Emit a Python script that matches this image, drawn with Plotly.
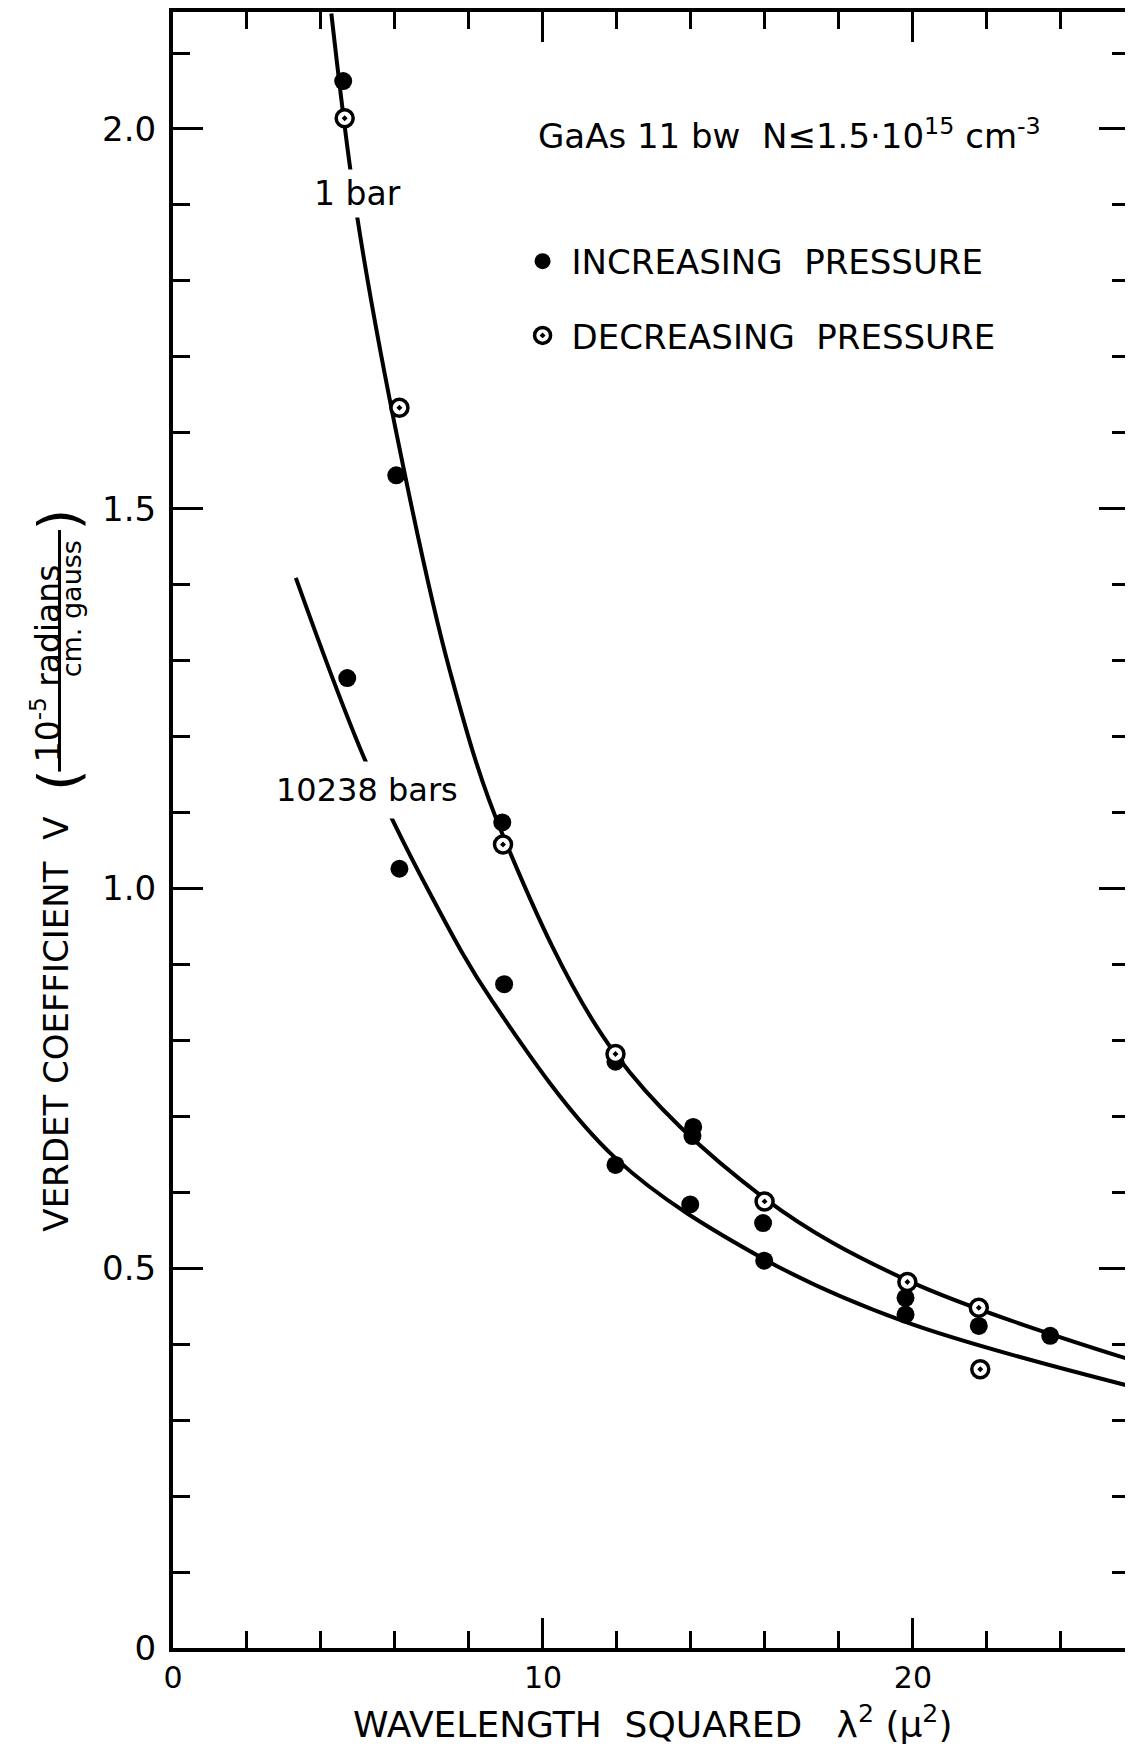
import plotly.graph_objects as go

# ---------------- data ----------------
inc_x = [4.60, 6.035, 4.71, 6.12, 8.90, 8.95, 11.96, 11.96, 14.06, 14.04, 13.98, 15.95, 15.98, 19.80, 19.80, 21.78, 23.71]
inc_y = [2.063, 1.544, 1.277, 1.026, 1.087, 0.874, 0.772, 0.636, 0.686, 0.674, 0.584, 0.5595, 0.510, 0.461, 0.439, 0.424, 0.411]

dec_x = [4.64, 6.12, 8.92, 11.96, 15.99, 19.85, 21.78, 21.82]
dec_y = [2.014, 1.633, 1.058, 0.782, 0.588, 0.482, 0.448, 0.367]

# fitted curves, read at a few points along each drawn line
bar1_x = [4.28, 4.97, 6.12, 7.47, 8.90, 11.96, 15.99, 19.85, 25.85]
bar1_y = [2.152, 1.887, 1.580, 1.289, 1.072, 0.782, 0.592, 0.484, 0.380]

bar10238_x = [3.32, 5.21, 6.93, 8.64, 11.96, 15.98, 19.76, 25.85]
bar10238_y = [1.409, 1.167, 0.995, 0.851, 0.645, 0.512, 0.430, 0.345]

x_tickvals = [0, 10, 20]
x_ticktext = ["0", "10", "20"]
y_tickvals = [0, 0.5, 1.0, 1.5, 2.0]
y_ticktext = ["0", "0.5", "1.0", "1.5", "2.0"]

# ---------------- layout geometry ----------------
W, H = 1125, 1738
ML, MR, MT, MB = 165, 0, 1, 98
PW, PH = W - ML - MR, H - MT - MB
OFF = 8  # browser body margin


def px(ax):
    return (ax - OFF - ML) / PW


def py(ay):
    return 1 - (ay - OFF - MT) / PH


FONT = "DejaVu Sans"

fig = go.Figure()

fig.add_trace(go.Scatter(x=bar1_x, y=bar1_y, mode="lines",
                         line=dict(color="black", width=4, shape="spline", smoothing=1.0),
                         showlegend=False, hoverinfo="skip"))
fig.add_trace(go.Scatter(x=bar10238_x, y=bar10238_y, mode="lines",
                         line=dict(color="black", width=4, shape="spline", smoothing=1.0),
                         showlegend=False, hoverinfo="skip"))

fig.add_trace(go.Scatter(x=inc_x, y=inc_y, mode="markers", name="INCREASING  PRESSURE",
                         legendgroup="inc",
                         marker=dict(symbol="circle", size=18, color="black",
                                     line=dict(color="black", width=0))))
fig.add_trace(go.Scatter(x=dec_x, y=dec_y, mode="markers", name="DECREASING  PRESSURE",
                         legendgroup="dec",
                         marker=dict(symbol="circle-dot", size=17, color="white",
                                     line=dict(color="black", width=3.5))))

axis_common = dict(showline=True, linewidth=4, linecolor="black", mirror="ticks",
                   ticks="inside", ticklen=30, tickwidth=3, tickcolor="black",
                   showgrid=False, zeroline=False)

fig.update_xaxes(range=[0, 25.84], tickvals=x_tickvals, ticktext=x_ticktext,
                 tickfont=dict(family=FONT, size=30, color="black"),
                 minor=dict(dtick=2, tick0=0, ticks="inside", ticklen=17, tickwidth=3,
                            tickcolor="black", showgrid=False),
                 **axis_common)
fig.update_yaxes(range=[0, 2.154], tickvals=y_tickvals, ticktext=y_ticktext,
                 tickfont=dict(family=FONT, size=34, color="black"),
                 minor=dict(dtick=0.1, tick0=0, ticks="inside", ticklen=17, tickwidth=3,
                            tickcolor="black", showgrid=False),
                 ticklabelstandoff=6,
                 **axis_common)

annotations = [
    dict(text="GaAs 11 bw  N≤1.5·10<sup>15</sup> cm<sup>-3</sup>", x=px(538), y=py(131),
         xanchor="left", yanchor="middle", font=dict(size=34)),
    dict(text="1 bar", x=px(358), y=py(191), xanchor="center", yanchor="middle",
         font=dict(size=33), bgcolor="white", borderpad=4),
    dict(text="10238 bars", x=px(368), y=py(788), xanchor="center", yanchor="middle",
         font=dict(size=32), bgcolor="white", borderpad=9),
    dict(text="WAVELENGTH  SQUARED   λ<sup>2</sup> (μ<sup>2</sup>)", x=px(655), y=py(1722),
         xanchor="center", yanchor="middle", font=dict(size=36)),
    dict(text="VERDET COEFFICIENT  V", x=px(56), y=py(1023), textangle=-90,
         xanchor="center", yanchor="middle", font=dict(size=34)),
    dict(text="10<sup>-5</sup> radians", x=px(46), y=py(662), textangle=-90,
         xanchor="center", yanchor="middle", font=dict(size=33)),
    dict(text="cm. gauss", x=px(71), y=py(607), textangle=-90,
         xanchor="center", yanchor="middle", font=dict(size=27)),
    dict(text="(", x=px(58), y=py(778), textangle=-90,
         xanchor="center", yanchor="middle", font=dict(size=56)),
    dict(text=")", x=px(58), y=py(517), textangle=-90,
         xanchor="center", yanchor="middle", font=dict(size=56)),
]
for a in annotations:
    a.update(xref="paper", yref="paper", showarrow=False)
    a["font"].update(family=FONT, color="black")

fig.update_layout(
    width=W, height=H,
    margin=dict(l=ML, r=MR, t=MT, b=MB, pad=0),
    paper_bgcolor="white", plot_bgcolor="white",
    font=dict(family=FONT, color="black"),
    annotations=annotations,
    shapes=[dict(type="line", xref="paper", yref="paper",
                 x0=px(59), x1=px(59), y0=py(528), y1=py(770),
                 line=dict(color="black", width=3))],
    showlegend=True,
    legend=dict(x=px(515), y=py(230), xanchor="left", yanchor="top",
                font=dict(family=FONT, size=34, color="black"),
                bgcolor="rgba(0,0,0,0)", tracegroupgap=27, itemwidth=48,
                traceorder="grouped"),
)

fig.write_html("out.html")
